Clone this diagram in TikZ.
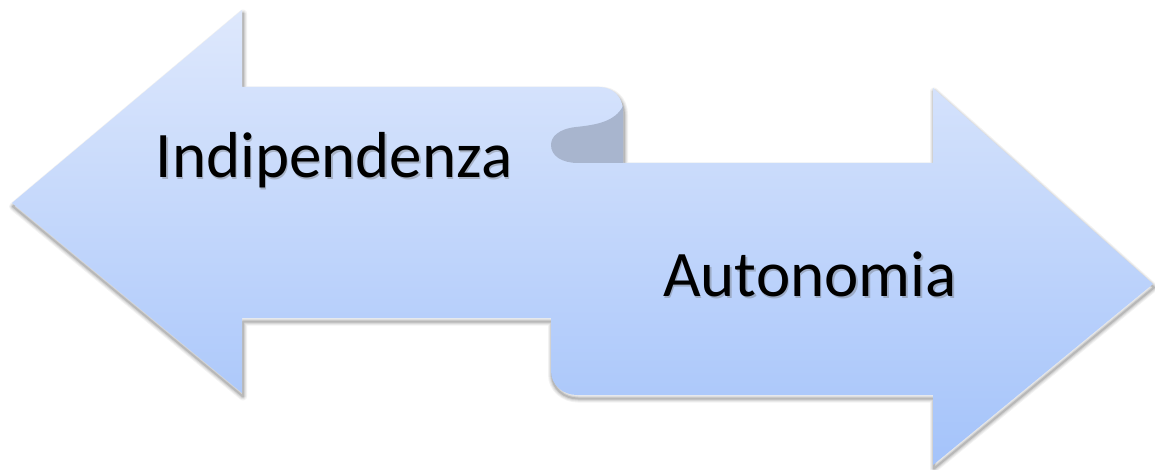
\documentclass[tikz,border=0pt]{standalone}
\usepackage{fontspec}
\setmainfont{Carlito}
\begin{document}
\begin{tikzpicture}[x=1pt,y=-1pt,
  label text/.style={font=\fontsize{65}{78}\selectfont, text=black, inner sep=0pt, anchor=base},
  label shadow/.style={label text, text=black!60, opacity=0.35}]
\useasboundingbox (0,0) rectangle (1155,470);
% outline of the two opposing arrows
\def\arrowpath{(12,203) -- (242,10) -- (242,87) -- (599,87)
  .. controls (613,87) and (623,97) .. (623,111) -- (623,163)
  -- (933,163) -- (933,88) -- (1153,284) -- (933,465) -- (933,395)
  -- (577,395) .. controls (563,395) and (551,385) .. (551,371)
  -- (551,318) -- (242,318) -- (242,393) -- cycle}
% soft drop shadow
\foreach \w/\o in {8/0.05,6/0.06,4/0.08,2/0.12}{
  \draw[black, opacity=\o, line width=\w pt, line join=round, shift={(1,3.5)}] \arrowpath;
}
% arrow body with vertical gradient
\shade[top color={rgb,255:red,222;green,232;blue,252},
       bottom color={rgb,255:red,164;green,195;blue,250}] \arrowpath;
% folded back of the ribbon
\fill[fill={rgb,255:red,168;green,181;blue,206}]
  (623,106) .. controls (615,122) and (595,125) .. (576,127)
  .. controls (558,129) and (551,137) .. (551,145)
  .. controls (551,156) and (562,163) .. (578,163) -- (623,163) -- cycle;
% labels with a light text shadow
\node[label shadow] at (335.5,180) {Indipendenza};
\node[label text] (indip) at (334,178) {Indipendenza};
\node[label shadow] at (811.5,298) {Autonomia};
\node[label text] (auton) at (810,296) {Autonomia};
\end{tikzpicture}
\end{document}
